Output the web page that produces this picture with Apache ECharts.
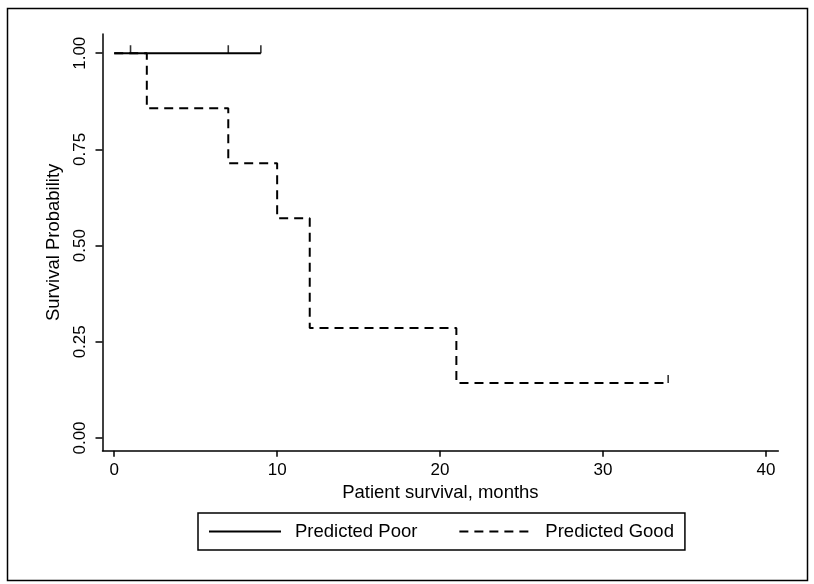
<!DOCTYPE html>
<html>
<head>
<meta charset="utf-8">
<script src="https://cdn.jsdelivr.net/npm/echarts@6/dist/echarts.min.js"></script>
<style>
html,body{margin:0;padding:0;background:#fff;}
#chart{width:814px;height:584px;}
</style>
</head>
<body>
<div id="chart"></div>
<script>
// Data
var xTicks = [0, 10, 20, 30, 40];
var yTicks = [0, 0.25, 0.5, 0.75, 1];
var poorTimes = [0, 9];
var poorSurv = [1, 1];
var poorCensorTimes = [1, 7, 9];
var poorCensorSurv = [1, 1, 1];
var goodTimes = [0, 2, 7, 10, 12, 21, 34];
var goodSurv = [1, 0.857, 0.714, 0.571, 0.286, 0.143, 0.143];
var goodCensorTimes = [34];
var goodCensorSurv = [0.143];
var seriesNames = ['Predicted Poor', 'Predicted Good'];

function zip(a, b) { return a.map(function (v, i) { return [v, b[i]]; }); }

var FONT = '"Liberation Sans", Arial, Helvetica, sans-serif';
var chart = echarts.init(document.getElementById('chart'), null, {renderer: 'canvas'});
var tickSym = {
  type: 'scatter', symbol: 'rect', symbolSize: [1.6, 8], symbolOffset: [0, -4],
  itemStyle: {color: '#000'}, silent: true, z: 4
};
chart.setOption({
  animation: false,
  backgroundColor: '#fff',
  graphic: [{
    type: 'rect', shape: {x: 7.5, y: 8.5, width: 800, height: 572},
    style: {fill: 'none', stroke: '#000', lineWidth: 1.5}, silent: true, z: -1
  }],
  grid: {left: 102.5, right: 35.7, top: 34, bottom: 133.3},
  xAxis: {
    type: 'value', min: -0.72, max: 40.76,
    name: 'Patient survival, months', nameLocation: 'middle', nameGap: 31,
    nameTextStyle: {fontFamily: FONT, fontSize: 18.5, color: '#000'},
    axisLine: {show: true, onZero: false, lineStyle: {color: '#000', width: 1.5}},
    axisTick: {show: true, length: 6, customValues: xTicks, lineStyle: {color: '#000', width: 1.5}},
    axisLabel: {customValues: xTicks, margin: 11, fontFamily: FONT, fontSize: 17, color: '#000'},
    splitLine: {show: false}
  },
  yAxis: {
    type: 'value', min: -0.033, max: 1.050,
    name: 'Survival Probability', nameLocation: 'middle', nameGap: 28,
    nameTextStyle: {fontFamily: FONT, fontSize: 18.5, color: '#000'},
    axisLine: {show: true, onZero: false, lineStyle: {color: '#000', width: 1.5}},
    axisTick: {show: true, length: 7, customValues: yTicks, lineStyle: {color: '#000', width: 1.5}},
    axisLabel: {customValues: yTicks, rotate: 90, margin: 14, fontFamily: FONT, fontSize: 17, color: '#000',
      formatter: function (v) { return v.toFixed(2); }},
    splitLine: {show: false}
  },
  legend: {
    data: seriesNames,
    left: 198, top: 513,
    orient: 'horizontal',
    itemWidth: 72, itemHeight: 14, itemGap: 41,
    padding: [9, 11, 9, 10],
    borderColor: '#000', borderWidth: 1.5,
    itemStyle: {color: 'rgba(0,0,0,0)', borderWidth: 0, opacity: 0},
    textStyle: {fontFamily: FONT, fontSize: 18.5, color: '#000', padding: [0, 0, 0, 9]}
  },
  series: [
    {
      name: seriesNames[0], type: 'line', step: 'end', symbol: 'none',
      data: zip(poorTimes, poorSurv),
      lineStyle: {color: '#000', width: 2, type: 'solid'}, itemStyle: {color: '#000'}, z: 3
    },
    Object.assign({name: 'poorCensor', data: zip(poorCensorTimes, poorCensorSurv)}, tickSym),
    {
      name: seriesNames[1], type: 'line', step: 'end', symbol: 'none',
      data: zip(goodTimes, goodSurv),
      lineStyle: {color: '#000', width: 2, type: [9, 6]}, itemStyle: {color: '#000'}, z: 2
    },
    Object.assign({name: 'goodCensor', data: zip(goodCensorTimes, goodCensorSurv)}, tickSym)
  ]
});
</script>
</body>
</html>
